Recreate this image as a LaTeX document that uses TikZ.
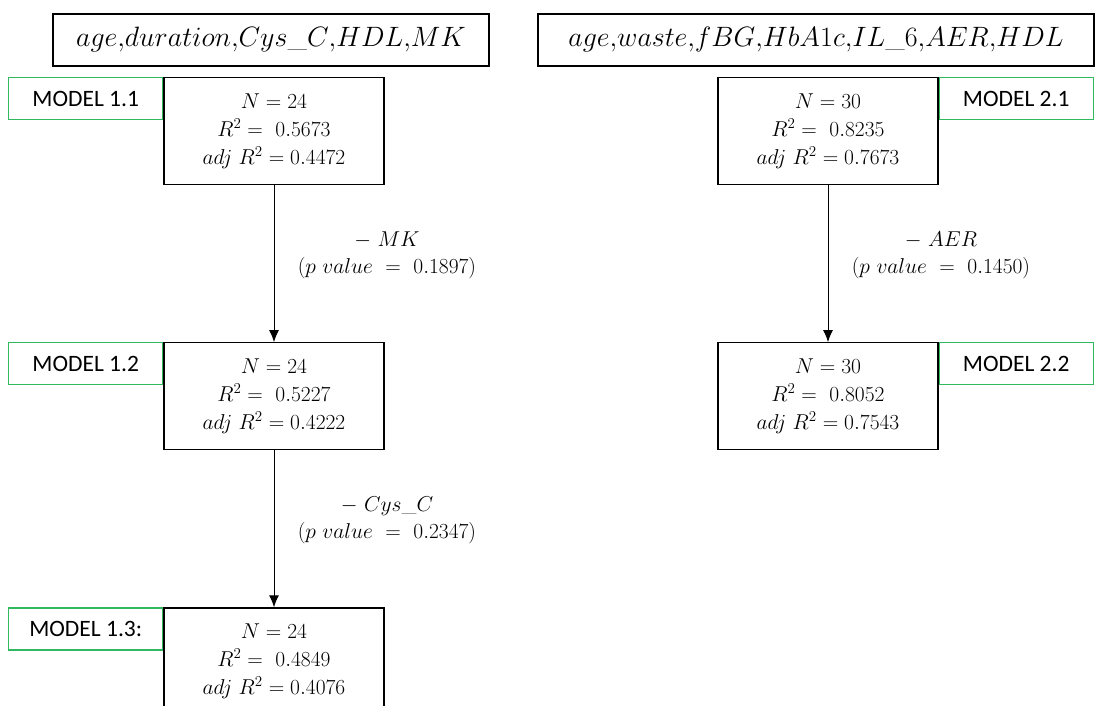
\RequirePackage{fix-cm}
\documentclass[tikz,border=0pt]{standalone}
\usepackage{fontspec}
\newfontfamily\tagfont{Carlito}
\usetikzlibrary{arrows.meta, positioning}
\definecolor{taggreen}{RGB}{50,185,95}

\begin{document}
\begin{tikzpicture}[
    x=1pt, y=1pt,
    % Define the style for each block
    header/.style={rectangle, draw, line width=1.2pt, text centered, minimum height=52pt, font=\fontsize{28}{32}\selectfont},
    model/.style={rectangle, draw, line width=1.2pt, align=center, minimum width=220pt, minimum height=107pt, font=\fontsize{21.5}{28}\selectfont},
    modeltag/.style={rectangle, draw=taggreen, line width=1.3pt, text centered, minimum width=154pt, minimum height=42pt, font=\tagfont\fontsize{23.5}{27}\selectfont},
    steplabel/.style={right=20pt, yshift=8pt, align=center, font=\fontsize{21.5}{27}\selectfont},
    connector/.style={-{Latex[length=12pt, width=10pt]}, line width=1pt},
    node distance=157pt
]
\useasboundingbox (0,0) rectangle (1096,-706);

% Variable sets on top
\node [header, minimum width=436pt] (Head1) at (271,-40) {$age{,}duration{,}Cys\_C{,}HDL{,}MK$};
\node [header, minimum width=556pt] (Head2) at (816,-40) {$age{,}waste{,}fBG{,}HbA1c{,}IL\_6{,}AER{,}HDL$};

% Left chain of models
\node [model] (M11) at (274,-131) {$N=24$\\ $R^2 =\ 0.5673$\\ $adj\ R^2 = 0.4472$};
\node [model, below=of M11] (M12) {$N=24$\\ $R^2 =\ 0.5227$\\ $adj\ R^2 = 0.4222$};
\node [model, below=of M12] (M13) {$N=24$\\ $R^2 =\ 0.4849$\\ $adj\ R^2 = 0.4076$};

% Right chain of models
\node [model] (M21) at (828,-131) {$N=30$\\ $R^2 =\ 0.8235$\\ $adj\ R^2 = 0.7673$};
\node [model, below=of M21] (M22) {$N=30$\\ $R^2 =\ 0.8052$\\ $adj\ R^2 = 0.7543$};

% Model tags
\node [modeltag, anchor=north east] (Tag11) at (M11.north west) {MODEL 1.1};
\node [modeltag, anchor=north east] (Tag12) at (M12.north west) {MODEL 1.2};
\node [modeltag, anchor=north east] (Tag13) at (M13.north west) {MODEL 1.3:};
\node [modeltag, anchor=north west] (Tag21) at (M21.north east) {MODEL 2.1};
\node [modeltag, anchor=north west] (Tag22) at (M22.north east) {MODEL 2.2};

% Draw connectors with labels
\draw [connector] (M11) -- node [steplabel] {$-\ MK$\\ $(p\ value\ =\ 0.1897)$} (M12);
\draw [connector] (M12) -- node [steplabel] {$-\ Cys\_C$\\ $(p\ value\ =\ 0.2347)$} (M13);
\draw [connector] (M21) -- node [steplabel] {$-\ AER$\\ $(p\ value\ =\ 0.1450)$} (M22);
\end{tikzpicture}
\end{document}
